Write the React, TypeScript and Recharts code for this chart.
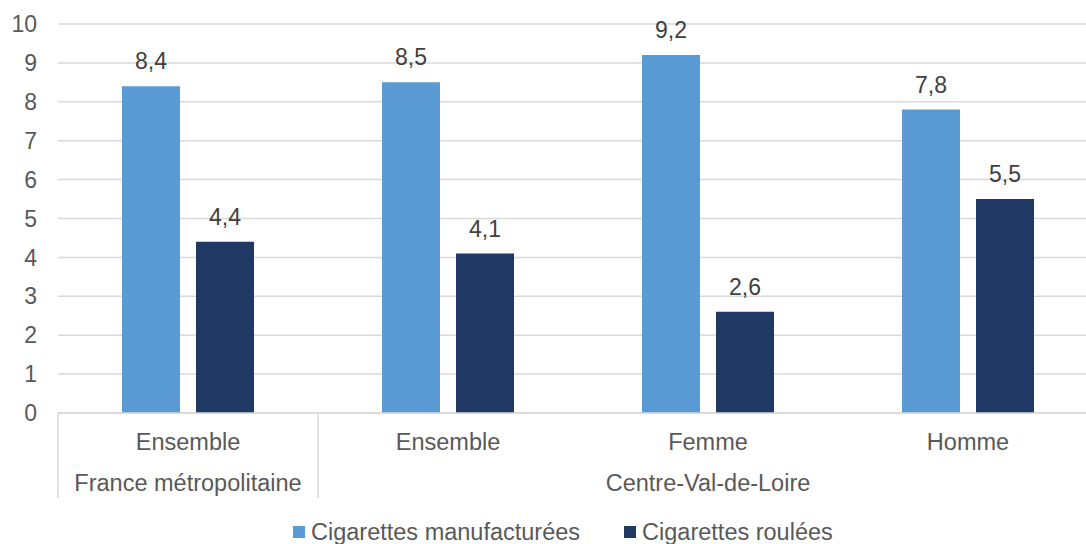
import { BarChart, Bar, XAxis, YAxis, CartesianGrid, LabelList } from 'recharts'

const categories = ['Ensemble', 'Ensemble', 'Femme', 'Homme']
const groups = ['France métropolitaine', 'Centre-Val-de-Loire', 'Centre-Val-de-Loire', 'Centre-Val-de-Loire']
const manufacturees = [8.4, 8.5, 9.2, 7.8]
const roulees = [4.4, 4.1, 2.6, 5.5]
const seriesNames = ['Cigarettes manufacturées', 'Cigarettes roulées']
const yTicks = [0, 1, 2, 3, 4, 5, 6, 7, 8, 9, 10]

const COLORS = ['#5B9BD5', '#203864']
const FONT = '"Liberation Sans", Arial, sans-serif'

const CHART_W = 1110
const CHART_H = 544
const MARGIN = { top: 24, right: 12, bottom: 46, left: 0 }
const YAXIS_W = 58
const XAXIS_H = 85
const BAND = (CHART_W - MARGIN.left - MARGIN.right - YAXIS_W) / categories.length

const data = categories.map((c, i) => ({
  key: i,
  cat: c,
  group: groups[i],
  manuf: manufacturees[i],
  roul: roulees[i],
}))

const fmt = (v: any) => Number(v).toFixed(1).replace('.', ',')

function CatTick(props: any) {
  const { x, y, payload } = props
  const i = payload.index ?? props.index
  const left = x - BAND / 2
  const isStart = i === 0 || groups[i] !== groups[i - 1]
  const isLast = i === categories.length - 1
  let span = 0
  if (isStart) {
    let j = i
    while (j < groups.length && groups[j] === groups[i]) j++
    span = j - i
  }
  return (
    <g>
      <text x={x} y={y + 37} textAnchor="middle" fill="#595959" fontSize={23.5} fontFamily={FONT}>
        {categories[i]}
      </text>
      {isStart && (
        <>
          <line x1={left} x2={left} y1={y} y2={y + XAXIS_H} stroke="#d9d9d9" strokeWidth={1.5} />
          <text
            x={left + (span * BAND) / 2}
            y={y + 78}
            textAnchor="middle"
            fill="#595959"
            fontSize={23.5}
            fontFamily={FONT}
          >
            {groups[i]}
          </text>
        </>
      )}
      {isLast && (
        <line x1={x + BAND / 2} x2={x + BAND / 2} y1={y} y2={y + XAXIS_H} stroke="#d9d9d9" strokeWidth={1.5} />
      )}
    </g>
  )
}

export default function App() {
  return (
    <div style={{ position: 'absolute', left: 0, top: 0, width: 1086, height: 544, overflow: 'hidden', background: '#fff' }}>
      <BarChart width={CHART_W} height={CHART_H} data={data} margin={MARGIN} barSize={58} barGap={16}>
        <CartesianGrid vertical={false} stroke="#d9d9d9" strokeWidth={1.5} />
        <XAxis
          dataKey="key"
          axisLine={{ stroke: '#d9d9d9', strokeWidth: 1.5 }}
          tickLine={false}
          tickSize={0}
          tickMargin={0}
          height={XAXIS_H}
          interval={0}
          tick={<CatTick />}
        />
        <YAxis
          domain={[0, 10]}
          ticks={yTicks}
          interval={0}
          width={YAXIS_W}
          axisLine={false}
          tickLine={false}
          tickSize={0}
          tickMargin={21}
          tick={{ fill: '#595959', fontSize: 23, fontFamily: FONT }}
        />
        <Bar dataKey="manuf" fill={COLORS[0]} isAnimationActive={false}>
          <LabelList dataKey="manuf" position="top" offset={17} formatter={fmt} fill="#404040" fontSize={23} fontFamily={FONT} />
        </Bar>
        <Bar dataKey="roul" fill={COLORS[1]} isAnimationActive={false}>
          <LabelList dataKey="roul" position="top" offset={17} formatter={fmt} fill="#404040" fontSize={23} fontFamily={FONT} />
        </Bar>
      </BarChart>
      <div
        style={{
          position: 'absolute',
          left: 293,
          top: 519,
          height: 26,
          display: 'flex',
          alignItems: 'center',
          fontFamily: FONT,
          fontSize: 23.5,
          lineHeight: '26px',
          color: '#595959',
          whiteSpace: 'nowrap',
        }}
      >
        {seriesNames.map((name, i) => (
          <div key={name} style={{ display: 'flex', alignItems: 'center', marginRight: i === 0 ? 44 : 0 }}>
            <span style={{ display: 'inline-block', width: 12, height: 12, background: COLORS[i], marginRight: 6 }} />
            <span>{name}</span>
          </div>
        ))}
      </div>
    </div>
  )
}
